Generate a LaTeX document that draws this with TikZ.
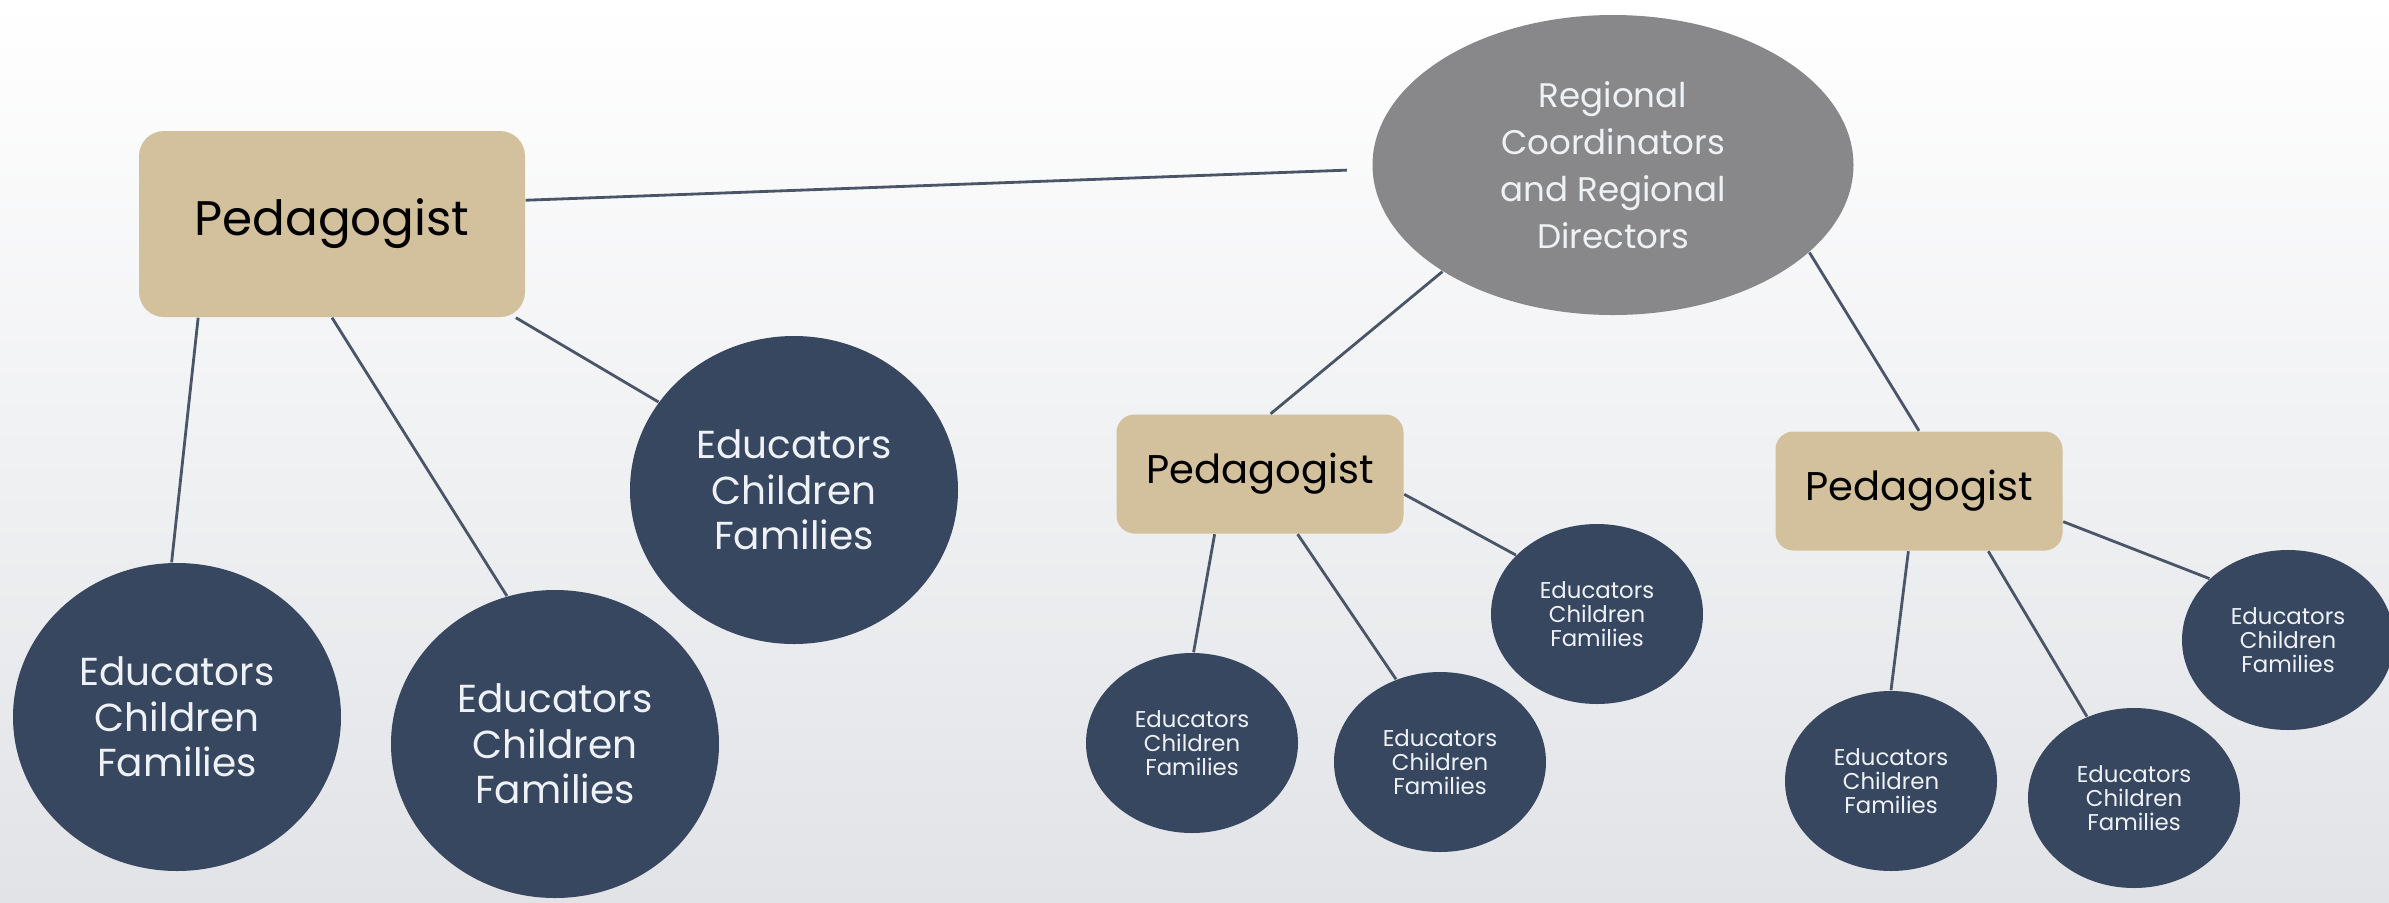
\documentclass[tikz,border=0pt]{standalone}
\usepackage{fontspec}
\setmainfont{Poppins}
\usetikzlibrary{shapes.geometric}

\definecolor{pedtan}{HTML}{D3C09C}
\definecolor{regray}{HTML}{88888A}
\definecolor{navy}{HTML}{36475F}
\definecolor{linkcol}{HTML}{4B5568}
\definecolor{bgbottom}{HTML}{E1E3E7}
\definecolor{softwhite}{HTML}{EEF1F5}

\tikzset{
	pedbox/.style={fill=pedtan, rounded corners=0.25cm, inner sep=0pt, text=black},
	bigped/.style={pedbox, minimum width=3.86cm, minimum height=1.86cm, font=\fontsize{13.8}{16}\selectfont},
	smallped/.style={pedbox, minimum width=2.87cm, minimum height=1.19cm, rounded corners=0.18cm, font=\fontsize{11.4}{13}\selectfont},
	bigcirc/.style={ellipse, fill=navy, text=softwhite, align=center, inner sep=0pt,
		minimum width=3.28cm, minimum height=3.08cm, font=\fontsize{11.1}{13}\selectfont},
	smallcirc/.style={ellipse, fill=navy, text=softwhite, align=center, inner sep=0pt,
		minimum width=2.12cm, minimum height=1.80cm, font=\fontsize{6.5}{6.9}\selectfont},
	link/.style={draw=linkcol, line width=0.8pt}
}

\begin{document}
\begin{tikzpicture}

	% background
	\useasboundingbox (0,0) rectangle (23.89,9.02);
	\shade[top color=white, bottom color=bgbottom] (0,0) rectangle (23.89,9.02);

	% top level
	\node[ellipse, fill=regray, text=softwhite, align=center, inner sep=0pt,
		minimum width=4.81cm, minimum height=3.00cm, font=\fontsize{9.7}{13.4}\selectfont]
		(reg) at (16.13,7.37) {Regional\\Coordinators\\and Regional\\Directors};

	% left group
	\node[bigped] (pedA) at (3.32,6.78) {Pedagogist};
	\node[bigcirc] (cA1) at (1.77,1.85) {Educators\\Children\\Families};
	\node[bigcirc] (cA2) at (5.55,1.58) {Educators\\Children\\Families};
	\node[bigcirc] (cA3) at (7.94,4.12) {Educators\\Children\\Families};

	% middle group
	\node[smallped] (pedB) at (12.60,4.28) {Pedagogist};
	\node[smallcirc] (sB1) at (11.92,1.59) {Educators\\Children\\Families};
	\node[smallcirc] (sB2) at (14.40,1.40) {Educators\\Children\\Families};
	\node[smallcirc] (sB3) at (15.97,2.88) {Educators\\Children\\Families};

	% right group
	\node[smallped] (pedC) at (19.19,4.11) {Pedagogist};
	\node[smallcirc] (sC1) at (18.91,1.21) {Educators\\Children\\Families};
	\node[smallcirc] (sC2) at (21.34,1.04) {Educators\\Children\\Families};
	\node[smallcirc] (sC3) at (22.88,2.62) {Educators\\Children\\Families};

	% connectors
	\draw[link, shorten >=0.25cm] (pedA.7) -- (reg.181);
	\draw[link] (pedA.-145) -- (cA1.92);
	\draw[link] (pedA.south) -- (cA2.108);
	\draw[link] (pedA.-27) -- (cA3.147);

	\draw[link] (reg.212) -- (pedB.80);
	\draw[link] (reg.-24) -- (pedC.north);

	\draw[link] (pedB.-127) -- (sB1.89);
	\draw[link] (pedB.-58) -- (sB2.118);
	\draw[link] (pedB.-8) -- (sB3.144);

	\draw[link] (pedC.-100) -- (sC1.90);
	\draw[link] (pedC.-41) -- (sC2.120);
	\draw[link] (pedC.-12) -- (sC3.142);

\end{tikzpicture}
\end{document}
